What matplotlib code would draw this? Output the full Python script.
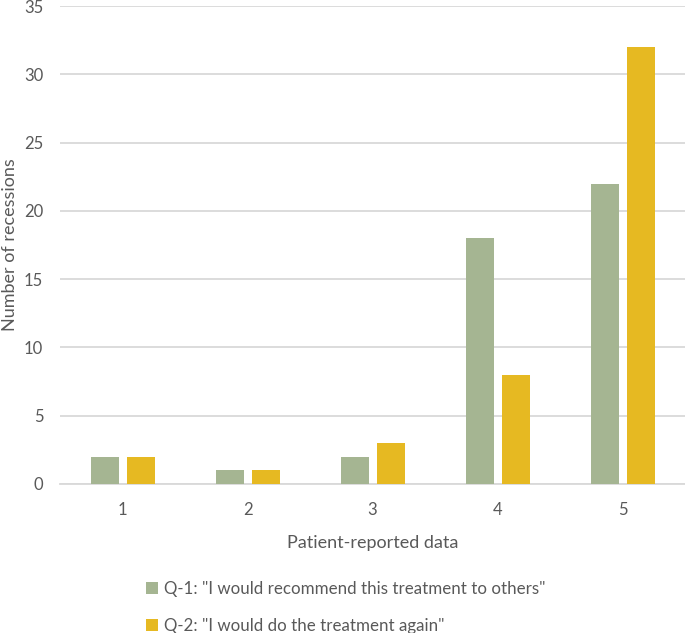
import matplotlib
matplotlib.use("Agg")
import matplotlib.pyplot as plt
import numpy as np

categories = ["1", "2", "3", "4", "5"]
q1_values = [2, 1, 2, 18, 22]
q2_values = [2, 1, 3, 8, 32]
series_labels = ['Q-1: "I would recommend this treatment to others"',
                 'Q-2: "I would do the treatment again"']
yticks = [0, 5, 10, 15, 20, 25, 30, 35]

green = "#A5B592"
yellow = "#E6B922"
txt = "#595959"

plt.rcParams['font.family'] = ['Lato', 'DejaVu Sans']

fig = plt.figure(figsize=(6.85, 6.33), dpi=100)
ax = fig.add_axes([60/685, 1-484/633, 1-60/685, (484-6)/633])

x = np.arange(1, len(categories)+1)
w = 0.224
off = 0.144
b1 = ax.bar(x - off, q1_values, w, color=green, label=series_labels[0], zorder=3)
b2 = ax.bar(x + off, q2_values, w, color=yellow, label=series_labels[1], zorder=3)

ax.set_xlim(0.5, 5.5)
ax.set_ylim(0, 35)
ax.set_yticks(yticks)
ax.set_xticks(x)
ax.set_xticklabels(categories)
ax.yaxis.grid(True, color="#D9D9D9", linewidth=1.3, zorder=0)
ax.set_axisbelow(True)
for s in ["top", "right", "left"]:
    ax.spines[s].set_visible(False)
ax.spines["bottom"].set_color("#D9D9D9")
ax.spines["bottom"].set_linewidth(1.3)
ax.tick_params(axis="both", length=0, colors=txt, labelsize=12)
ax.tick_params(axis="x", pad=13)
ax.tick_params(axis="y", pad=12)

ax.set_xlabel("Patient-reported data", color=txt, fontsize=13, labelpad=12)
fig.text(10/685, 1-245/633, "Number of recessions", rotation=90, color=txt,
         fontsize=13, ha="center", va="center")

leg = fig.legend(handles=[b1, b2], loc="upper left", bbox_to_anchor=(131/685, 1-566/633),
                 frameon=False, fontsize=12.2, handlelength=0.72, handleheight=0.72,
                 handletextpad=0.3, labelspacing=1.2, labelcolor=txt)

fig.savefig("out.png", dpi=100)
